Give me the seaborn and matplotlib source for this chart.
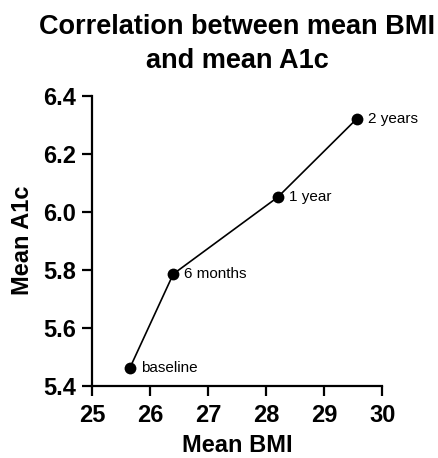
import matplotlib
matplotlib.use("Agg")
import matplotlib.pyplot as plt
import seaborn as sns
import pandas as pd

timepoints = ["baseline", "6 months", "1 year", "2 years"]
mean_bmi = [25.65, 26.40, 28.20, 29.56]
mean_a1c = [5.46, 5.785, 6.05, 6.32]
x_ticks = [25, 26, 27, 28, 29, 30]
y_ticks = [5.4, 5.6, 5.8, 6.0, 6.2, 6.4]

df = pd.DataFrame({"bmi": mean_bmi, "a1c": mean_a1c, "label": timepoints})

sns.set_theme(style="ticks")
plt.rcParams["font.family"] = ["Liberation Sans", "DejaVu Sans"]
plt.rcParams["text.color"] = "black"
plt.rcParams["axes.labelcolor"] = "black"
plt.rcParams["axes.titlecolor"] = "black"

fig = plt.figure(figsize=(4.39, 4.58), dpi=100)
ax = fig.add_axes([0.2096, 0.158, 0.661, 0.633])

sns.lineplot(data=df, x="bmi", y="a1c", sort=False, color="black",
             linewidth=1.2, marker="o", markersize=8.5, markeredgewidth=0,
             markerfacecolor="black", ax=ax)

for _, r in df.iterrows():
    ax.annotate(r["label"], (r["bmi"], r["a1c"]), xytext=(8, 0),
                textcoords="offset points", va="center", ha="left",
                fontsize=11, color="black")

ax.set_xlim(25, 30)
ax.set_ylim(5.4, 6.4)
ax.set_xticks(x_ticks)
ax.set_yticks(y_ticks)
ax.set_xticklabels([str(t) for t in x_ticks])
ax.set_yticklabels([f"{t:.1f}" for t in y_ticks])
ax.tick_params(axis="both", length=7.2, width=1.6, labelsize=17, color="black",
               labelcolor="black", pad=4)
ax.tick_params(axis="x", pad=6)
for lbl in ax.get_xticklabels() + ax.get_yticklabels():
    lbl.set_fontweight("bold")
for s in ["left", "bottom"]:
    ax.spines[s].set_linewidth(1.6)
    ax.spines[s].set_color("black")
sns.despine(ax=ax)

ax.set_xlabel("Mean BMI", fontsize=17, fontweight="bold", labelpad=5, color="black")
ax.set_ylabel("Mean A1c", fontsize=17, fontweight="bold", labelpad=7, color="black")
ax.set_title("Correlation between mean BMI\nand mean A1c", fontsize=19.5,
             fontweight="bold", pad=20, linespacing=1.38, color="black")

fig.savefig("out.png", dpi=100)
